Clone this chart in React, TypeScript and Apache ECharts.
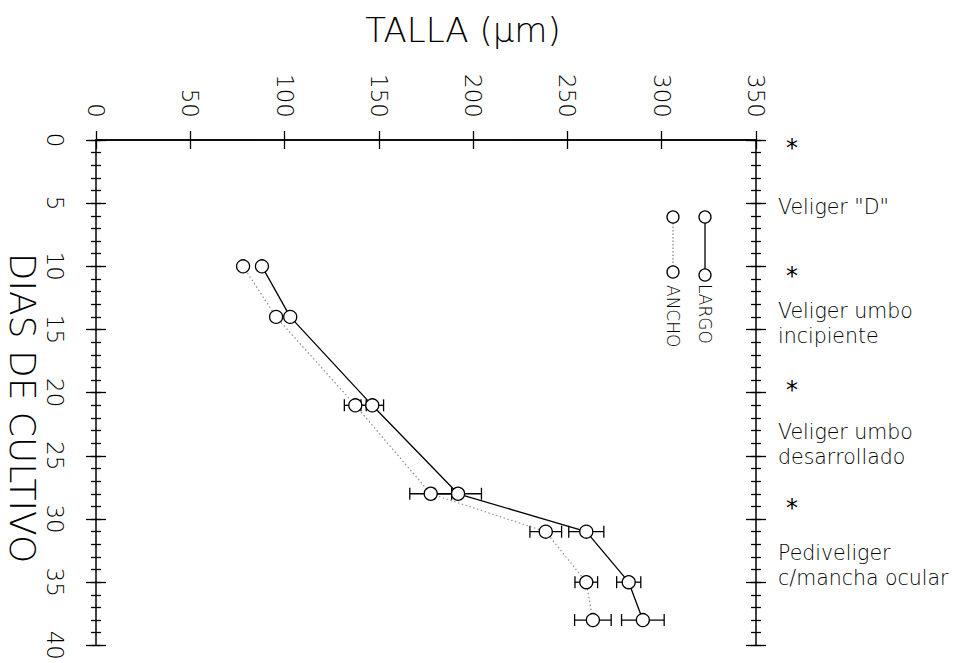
import React, { useEffect, useRef } from "react";
import * as echarts from "echarts";

// ---- data ----
const days = [10, 14, 21, 28, 31, 35, 38];
const largo = [88, 103, 146.5, 192, 260, 282.5, 290];
const ancho = [78, 95.5, 137.5, 177.5, 238.5, 260, 263.5];
const largoErr = [0, 0, 6, 12.4, 9.3, 6.4, 11.3];
const anchoErr = [0, 0, 5.8, 11.1, 8.4, 6, 9.7];

const xMin = 0;
const xMax = 350;
const xInterval = 50;
const yMin = 0;
const yMax = 40;
const yInterval = 5;
const yMinorInterval = 1;

const stageMarkDays = [0.2, 10.4, 19.4, 28.7];
const stageNames = [
  'Veliger "D"',
  "Veliger umbo\nincipiente",
  "Veliger umbo\ndesarrollado",
  "Pediveliger\nc/mancha ocular",
];
const stageNameDays = [5.3, 14.5, 24.1, 33.7];

const xTitle = "TALLA (µm)";
const yTitle = "DIAS DE CULTIVO";
const seriesNames = ["LARGO", "ANCHO"];

const FONT = "DejaVu Sans";
const WEIGHT = 200;
const BLACK = "#000";

export default function App() {
  const ref = useRef<HTMLDivElement>(null);

  useEffect(() => {
    if (!ref.current) return;
    const chart = echarts.init(ref.current, undefined, { renderer: "svg" });

    const tickLine = { color: BLACK, width: 1.3 };
    const baseX = {
      type: "value",
      min: xMin,
      max: xMax,
      interval: xInterval,
      splitLine: { show: false },
    };
    const baseY = {
      type: "value",
      min: yMin,
      max: yMax,
      inverse: true,
      splitLine: { show: false },
    };

    // y axes: [side][major/minor][outside/inside]
    const yAxes: any[] = [];
    (["left", "right"] as const).forEach((side) => {
      [
        { interval: yInterval, length: 10 },
        { interval: yMinorInterval, length: 5 },
      ].forEach((t, ti) => {
        [false, true].forEach((inside, ii) => {
          const isMain = side === "left" && ti === 0 && ii === 0;
          yAxes.push({
            ...baseY,
            interval: t.interval,
            position: side,
            axisLine: {
              show: ti === 0 && ii === 0,
              lineStyle: { color: BLACK, width: 1.5 },
            },
            axisTick: { show: true, inside, length: t.length, lineStyle: tickLine },
            axisLabel: isMain
              ? {
                  show: true,
                  rotate: -90,
                  margin: 30,
                  fontSize: 23,
                  fontFamily: FONT,
                  fontWeight: WEIGHT,
                  color: BLACK,
                }
              : { show: false },
          });
        });
      });
    });

    const errSeries = (vals: number[], errs: number[], name: string) => ({
      type: "custom",
      name: name + "_err",
      xAxisIndex: 0,
      yAxisIndex: 0,
      z: 1,
      silent: true,
      data: days.map((d, i) => [vals[i] - errs[i], vals[i] + errs[i], d]),
      renderItem: (params: any, api: any) => {
        const lo = api.coord([api.value(0), api.value(2)]);
        const hi = api.coord([api.value(1), api.value(2)]);
        if (hi[0] - lo[0] < 1) return { type: "group", children: [] };
        const h = 6;
        const style = { stroke: BLACK, lineWidth: 1.3, fill: "none" };
        return {
          type: "group",
          children: [
            { type: "line", shape: { x1: lo[0], y1: lo[1], x2: hi[0], y2: hi[1] }, style },
            { type: "line", shape: { x1: lo[0], y1: lo[1] - h, x2: lo[0], y2: lo[1] + h }, style },
            { type: "line", shape: { x1: hi[0], y1: hi[1] - h, x2: hi[0], y2: hi[1] + h }, style },
          ],
        };
      },
    });

    const option: any = {
      animation: false,
      backgroundColor: "#fff",
      textStyle: { fontFamily: FONT, fontWeight: WEIGHT },
      grid: { left: 96, right: 214, top: 140, bottom: 13, containLabel: false },
      xAxis: [
        {
          ...baseX,
          position: "top",
          axisLine: { show: true, lineStyle: { color: BLACK, width: 1.5 } },
          axisTick: { show: true, inside: false, length: 9, lineStyle: tickLine },
          axisLabel: {
            show: true,
            rotate: -90,
            margin: 22,
            fontSize: 23,
            fontFamily: FONT,
            fontWeight: WEIGHT,
            color: BLACK,
          },
        },
        {
          ...baseX,
          position: "top",
          axisLine: { show: false },
          axisTick: { show: true, inside: true, length: 9, lineStyle: tickLine },
          axisLabel: { show: false },
        },
        {
          ...baseX,
          position: "bottom",
          axisLine: { show: true, lineStyle: { color: BLACK, width: 1.5 } },
          axisTick: { show: false },
          axisLabel: { show: false },
        },
      ],
      yAxis: yAxes,
      series: [
        errSeries(largo, largoErr, seriesNames[0]),
        errSeries(ancho, anchoErr, seriesNames[1]),
        {
          type: "line",
          name: seriesNames[0],
          xAxisIndex: 0,
          yAxisIndex: 0,
          z: 3,
          data: days.map((d, i) => [largo[i], d]),
          symbol: "circle",
          symbolSize: 13,
          showAllSymbol: true,
          itemStyle: { color: "#fff", borderColor: BLACK, borderWidth: 1.3 },
          lineStyle: { color: BLACK, width: 1.3 },
        },
        {
          type: "line",
          name: seriesNames[1],
          xAxisIndex: 0,
          yAxisIndex: 0,
          z: 2,
          data: days.map((d, i) => [ancho[i], d]),
          symbol: "circle",
          symbolSize: 13,
          showAllSymbol: true,
          itemStyle: { color: "#fff", borderColor: BLACK, borderWidth: 1.3 },
          lineStyle: { color: "#8a8a8a", width: 1.2, type: [1.5, 2.5] },
        },
      ],
    };
    chart.setOption(option);

    // annotations positioned through the y axis scale
    const yPix = (d: number) => chart.convertToPixel({ yAxisIndex: 0 }, d) as number;
    const graphics: any[] = [];
    graphics.push({
      type: "text",
      x: 463,
      y: 30,
      style: {
        text: xTitle,
        fontSize: 34,
        fontFamily: FONT,
        fontWeight: WEIGHT,
        fill: BLACK,
        align: "center",
        verticalAlign: "middle",
      },
    });
    graphics.push({
      type: "text",
      x: 22,
      y: 408,
      rotation: -Math.PI / 2,
      style: {
        text: yTitle,
        fontSize: 36,
        fontFamily: FONT,
        fontWeight: WEIGHT,
        fill: BLACK,
        align: "center",
        verticalAlign: "middle",
      },
    });
    stageMarkDays.forEach((d) => {
      graphics.push({
        type: "text",
        x: 792,
        y: yPix(d) + 5,
        style: {
          text: "*",
          fontSize: 24,
          fontFamily: FONT,
          fontWeight: "normal",
          fill: BLACK,
          align: "center",
          verticalAlign: "middle",
        },
      });
    });
    stageNames.forEach((t, i) => {
      graphics.push({
        type: "text",
        x: 778,
        y: yPix(stageNameDays[i]),
        style: {
          text: t,
          fontSize: 20.5,
          lineHeight: 25,
          fontFamily: FONT,
          fontWeight: WEIGHT,
          fill: BLACK,
          align: "left",
          verticalAlign: "middle",
        },
      });
    });
    // rotated legend
    const legendItems = [
      { x: 705, name: seriesNames[0], color: BLACK, dash: "solid" as any, y2: 275, ty: 284 },
      { x: 673, name: seriesNames[1], color: "#8a8a8a", dash: [1.5, 2] as any, y2: 272, ty: 285 },
    ];
    legendItems.forEach((it) => {
      graphics.push({
        type: "line",
        shape: { x1: it.x, y1: 223, x2: it.x, y2: it.y2 - 6 },
        style: { stroke: it.color, lineWidth: 1.3, lineDash: it.dash },
      });
      [217, it.y2].forEach((cy) =>
        graphics.push({
          type: "circle",
          shape: { cx: it.x, cy, r: 6 },
          style: { fill: "#fff", stroke: BLACK, lineWidth: 1.3 },
        })
      );
      graphics.push({
        type: "text",
        x: it.x,
        y: it.ty,
        rotation: -Math.PI / 2,
        style: {
          text: it.name,
          fontSize: 17,
          fontFamily: FONT,
          fontWeight: WEIGHT,
          fill: BLACK,
          align: "left",
          verticalAlign: "middle",
        },
      });
    });
    chart.setOption({ graphic: graphics });

    return () => chart.dispose();
  }, []);

  return (
    <div
      ref={ref}
      style={{ position: "fixed", left: 0, top: 0, width: 970, height: 663, background: "#fff" }}
    />
  );
}
